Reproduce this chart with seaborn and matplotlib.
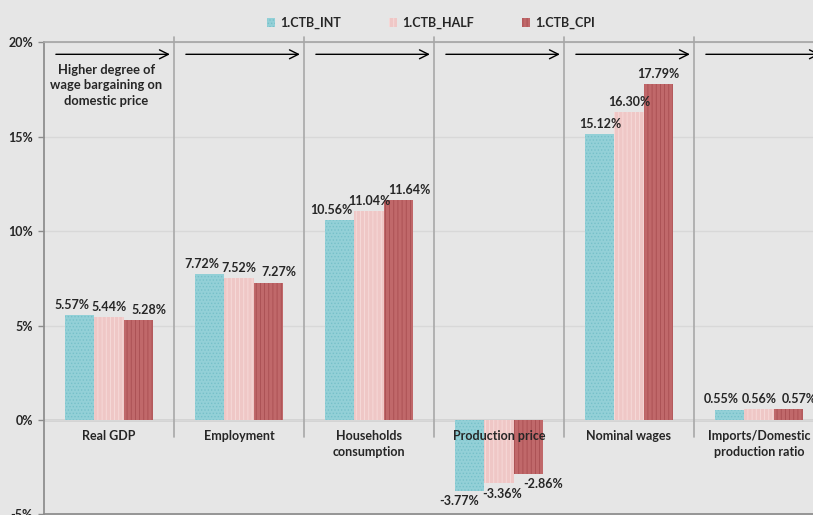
import matplotlib
matplotlib.use('Agg')
import numpy as np
import pandas as pd
import matplotlib.pyplot as plt
import seaborn as sns
from matplotlib.patches import Patch

# chart data
categories = ['Real GDP', 'Employment', 'Households\nconsumption', 'Production price',
              'Nominal wages', 'Imports/Domestic\nproduction ratio']
series = ['1.CTB_INT', '1.CTB_HALF', '1.CTB_CPI']
ctb_int = [5.57, 7.72, 10.56, -3.77, 15.12, 0.55]
ctb_half = [5.44, 7.52, 11.04, -3.36, 16.30, 0.56]
ctb_cpi = [5.28, 7.27, 11.64, -2.86, 17.79, 0.57]
y_ticks = [-5, 0, 5, 10, 15, 20]
note_text = 'Higher degree of\nwage bargaining on\ndomestic price'

# styling
bg = '#e6e6e6'
colors = ['#93d0d7', '#efc7c6', '#c0686a']
hatch_colors = ['#76c0c9', '#f7dcdb', '#a94e51']
hatches = ['.....', '||||', '||||']

sns.set_theme(style='white')
plt.rcParams['font.family'] = ['Lato', 'DejaVu Sans']
plt.rcParams['hatch.linewidth'] = 0.6

values = [ctb_int, ctb_half, ctb_cpi]
df = pd.DataFrame({
    'category': categories * 3,
    'series': np.repeat(series, len(categories)),
    'value': ctb_int + ctb_half + ctb_cpi,
})

fig = plt.figure(figsize=(8.13, 5.15), dpi=100, facecolor=bg)
ax = fig.add_axes([44 / 813, 0.001, 780 / 813, 0.9174])
ax.set_facecolor(bg)

sns.barplot(data=df, x='category', y='value', hue='series', palette=colors,
            width=0.67, gap=0, saturation=1, legend=False, ax=ax)

for k, cont in enumerate(ax.containers):
    for bar in cont:
        bar.set_hatch(hatches[k])
        bar.set_edgecolor(hatch_colors[k])
        bar.set_linewidth(0)

ax.set_xlim(-0.5, 5.5)
ax.set_ylim(-5, 20)
ax.set_xticks([])
ax.set_xlabel('')
ax.set_ylabel('')
ax.set_yticks(y_ticks)
ax.set_yticklabels([f'{t}%' for t in y_ticks], fontsize=9, fontweight='bold')
ax.tick_params(axis='y', left=True, length=4, width=1, color='#8c8c8c', pad=4)
ax.set_axisbelow(True)
ax.yaxis.grid(True, color='#d8d8d8', lw=1)

ax.spines['right'].set_visible(False)
ax.spines['left'].set_color('#8c8c8c')
ax.spines['bottom'].set_color('#8c8c8c')
ax.spines['top'].set_color('#a6a6a6')
ax.axhline(0, color='#8c8c8c', lw=1, zorder=0.5)

# group separators, arrows and category names
for i in range(len(categories)):
    ax.plot([i + 0.5, i + 0.5], [-0.9, 20.25], color='#a8a8a8', lw=1.2, clip_on=False)
    ax.annotate('', xy=(i + 0.49, 19.35), xytext=(i - 0.43, 19.35),
                arrowprops=dict(arrowstyle='->', color='black', lw=1, mutation_scale=16),
                annotation_clip=False)
    ax.text(i, -0.55, categories[i], ha='center', va='top', fontsize=9,
            fontweight='bold', linespacing=1.35, zorder=5)

ax.text(-0.02, 18.85, note_text, ha='center', va='top', fontsize=9.3,
        fontweight='bold', linespacing=1.35)

# value labels, spread sideways where bars are about the same height
for j in range(len(categories)):
    vals = [v[j] for v in values]
    crowded = max(vals) - min(vals) < 2
    for k, cont in enumerate(ax.containers):
        bar = cont[j]
        v = vals[k]
        x = bar.get_x() + bar.get_width() / 2
        if v >= 0:
            dx = [-6, 0, 8][k] if crowded else 0
            ax.annotate(f'{v:.2f}%', (x, v), xytext=(dx, 3), textcoords='offset points',
                        ha='center', va='bottom', fontsize=9, fontweight='bold',
                        annotation_clip=False)
        else:
            dx = [-8, 2, 11][k] if crowded else 0
            ax.annotate(f'{v:.2f}%', (x, v), xytext=(dx, -3), textcoords='offset points',
                        ha='center', va='top', fontsize=9, fontweight='bold',
                        annotation_clip=False)

handles = [Patch(facecolor=colors[k], edgecolor=hatch_colors[k], hatch=hatches[k], lw=0)
           for k in range(3)]
fig.legend(handles, series, loc='center', bbox_to_anchor=(0.53, 0.955), ncol=3,
           frameon=False, handlelength=0.7, handleheight=0.7, handletextpad=0.4,
           columnspacing=3.8, prop=dict(weight='bold', size=9))

fig.savefig('out.png', dpi=100, facecolor=bg)
